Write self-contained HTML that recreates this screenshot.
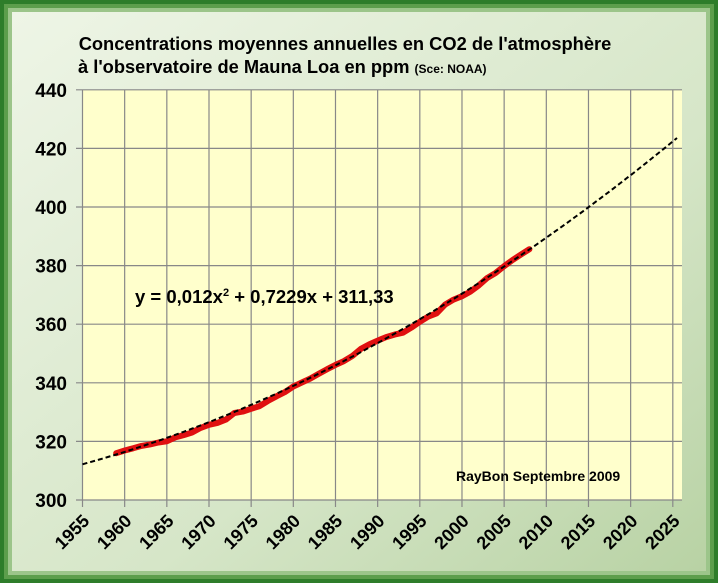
<!DOCTYPE html>
<html><head><meta charset="utf-8"><style>
body{margin:0;width:718px;height:583px;overflow:hidden;background:#fff}
svg{display:block;font-family:"Liberation Sans",sans-serif}
</style></head><body>
<svg width="718" height="583">
<defs>
<linearGradient id="fr" x1="0" y1="0" x2="1" y2="1"><stop offset="0" stop-color="#eef5e6"/><stop offset="0.6" stop-color="#d6e6c8"/><stop offset="1" stop-color="#b8d2a4"/></linearGradient>
</defs>
<rect x="0" y="0" width="718" height="583" fill="#2e7d2a"/>
<rect x="4" y="4" width="710" height="575" fill="#5d9e4c"/>
<rect x="8" y="8" width="702" height="567" fill="#9cc58a"/>
<rect x="12" y="12" width="694" height="559" fill="url(#fr)"/>
<rect x="82" y="90" width="600" height="410" fill="#ffffcc"/>
<text x="345" y="50" text-anchor="middle" font-size="18.3" font-weight="bold" fill="#000">Concentrations moyennes annuelles en CO2 de l'atmosphère</text>
<text x="78" y="73" font-size="18.3" font-weight="bold" fill="#000">à l'observatoire de Mauna Loa  en ppm <tspan font-size="12">(Sce: NOAA)</tspan></text>
<g id="grid"></g>
<g id="marks"></g>
<text x="135" y="303" font-size="18.5" font-weight="bold">y = 0,012x<tspan font-size="11" dy="-7">2</tspan><tspan dy="7"> + 0,7229x + 311,33</tspan></text>
<text x="456" y="481" font-size="14" font-weight="bold">RayBon Septembre 2009</text>
</svg>
<script>
const years=[1959,1960,1961,1962,1963,1964,1965,1966,1967,1968,1969,1970,1971,1972,1973,1974,1975,1976,1977,1978,1979,1980,1981,1982,1983,1984,1985,1986,1987,1988,1989,1990,1991,1992,1993,1994,1995,1996,1997,1998,1999,2000,2001,2002,2003,2004,2005,2006,2007,2008];
const co2=[315.97,316.91,317.64,318.45,318.99,319.62,320.04,321.38,322.16,323.04,324.62,325.68,326.32,327.45,329.68,330.18,331.11,332.04,333.83,335.40,336.84,338.75,340.11,341.45,343.05,344.65,346.12,347.42,349.19,351.57,353.12,354.39,355.61,356.45,357.10,358.83,360.82,362.61,363.73,366.70,368.38,369.55,371.14,373.28,375.80,377.52,379.80,381.90,383.79,385.60];
const xTicks=[1955,1960,1965,1970,1975,1980,1985,1990,1995,2000,2005,2010,2015,2020,2025];
const yTicks=[300,320,340,360,380,400,420,440];
const trendCoef=[0.0112,0.79,312.2];
const trendRange=[1955,2025.5];
const NS='http://www.w3.org/2000/svg';
const X=y=>82.5+(y-1955)*8.433;
const Y=v=>500-(v-300)*2.93;
const grid=document.getElementById('grid'),marks=document.getElementById('marks');
function mk(tag,attrs,parent){const e=document.createElementNS(NS,tag);for(const k in attrs)e.setAttribute(k,attrs[k]);parent.appendChild(e);return e;}
yTicks.forEach(v=>{
 const l=mk('line',{x1:76,x2:682,y1:Y(v),y2:Y(v),stroke:'#888','stroke-width':1.2},grid);
 
 
 const t=mk('text',{x:67,y:Y(v)+7,'text-anchor':'end','font-size':19,'font-weight':'bold'},grid);
 t.textContent=v;
 
 
});
xTicks.forEach(yr=>{
 const l=mk('line',{x1:X(yr),x2:X(yr),y1:90,y2:507,stroke:'#888','stroke-width':1.2},grid);
 
 
 const t=mk('text',{x:0,y:0,'text-anchor':'end','font-size':18,'font-weight':'bold',transform:`translate(${X(yr)+8},${522}) rotate(-45)`},grid);
 t.textContent=yr;
 
 
});
const dp=years.map((y,i)=>(i?'L':'M')+X(y).toFixed(1)+','+Y(co2[i]).toFixed(1)).join(' ');
const red=mk('path',{d:dp,fill:'none',stroke:'#e01010','stroke-width':6,'stroke-linejoin':'round','stroke-linecap':'round'},marks);


let tp='';
for(let yr=trendRange[0];yr<=trendRange[1]+0.001;yr+=0.5){const t=yr-1955;const v=trendCoef[0]*t*t+trendCoef[1]*t+trendCoef[2];tp+=(tp?'L':'M')+X(yr).toFixed(1)+','+Y(v).toFixed(1)+' ';}
const tr=mk('path',{d:tp,fill:'none',stroke:'#000','stroke-width':2,'stroke-dasharray':'5,3'},marks);


</script>
</body></html>
